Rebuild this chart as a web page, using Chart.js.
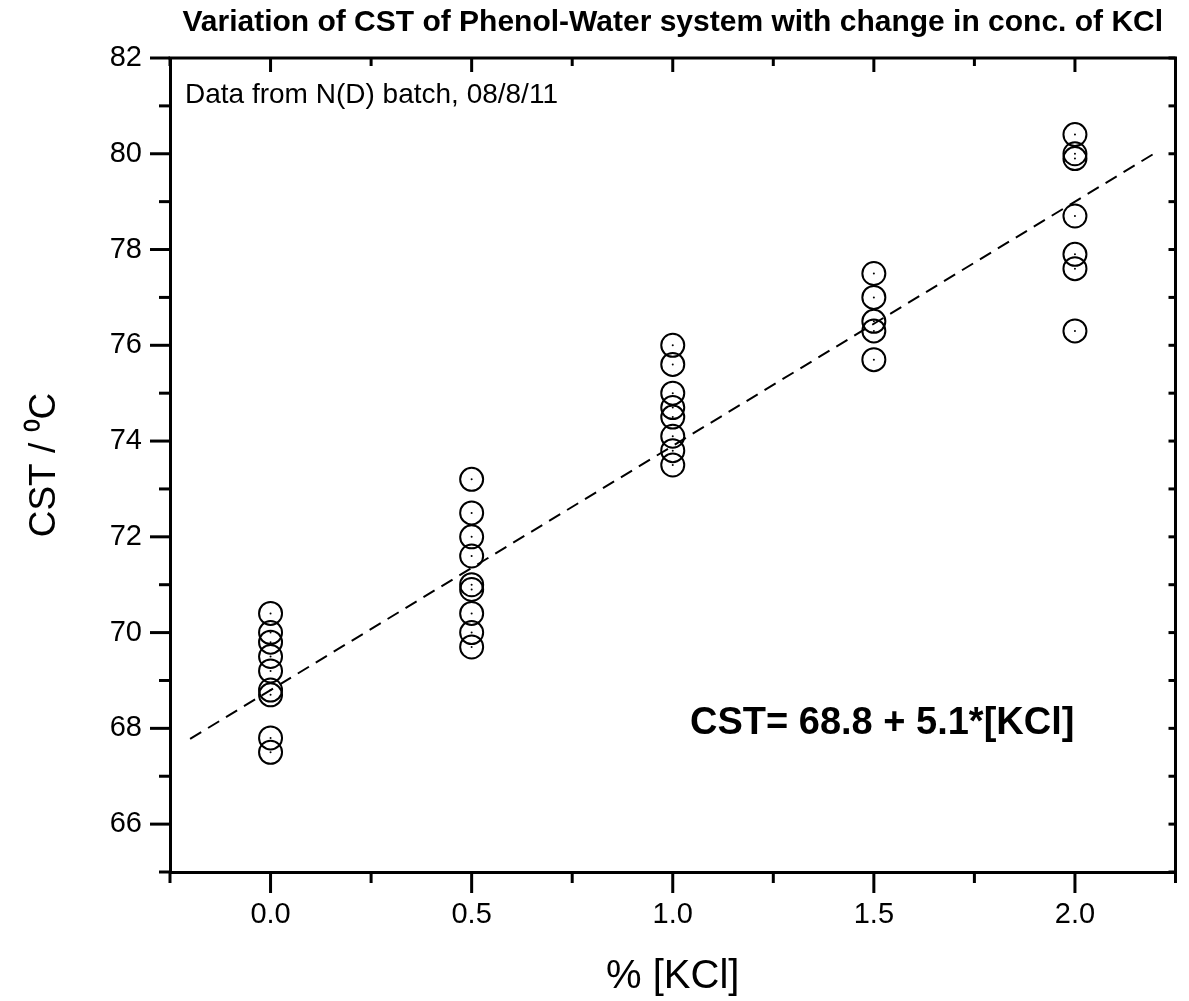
<!DOCTYPE html>
<html>
<head>
<meta charset="utf-8">
<script src="https://cdn.jsdelivr.net/npm/chart.js@4.4.1/dist/chart.umd.min.js"></script>
<style>
  html, body { margin: 0; padding: 0; background: #ffffff; }
  #wrap { width: 1189px; height: 1001px; position: relative; }
</style>
</head>
<body>
<div id="wrap"><canvas id="c"></canvas></div>
<script>
// ---- data ----
const kclLevels = [0.0, 0.5, 1.0, 1.5, 2.0];
const cstAt0_0 = [70.4, 70.0, 69.8, 69.5, 69.2, 68.8, 68.7, 67.8, 67.5];
const cstAt0_5 = [73.2, 72.5, 72.0, 71.6, 71.0, 70.9, 70.4, 70.0, 69.7];
const cstAt1_0 = [76.0, 75.6, 75.0, 74.7, 74.5, 74.1, 73.8, 73.5];
const cstAt1_5 = [77.5, 77.0, 76.5, 76.3, 75.7];
const cstAt2_0 = [80.4, 80.0, 79.9, 78.7, 77.9, 77.6, 76.3];
const fitX = [-0.2, 2.2];
const fitY = [67.78, 80.02];
const xTickValues = [0.0, 0.5, 1.0, 1.5, 2.0];
const xMinorValues = [-0.25, 0.25, 0.75, 1.25, 1.75, 2.25];
const yTickValues = [66, 68, 70, 72, 74, 76, 78, 80, 82];
const yMinorValues = [65, 67, 69, 71, 73, 75, 77, 79, 81];
const titleText = 'Variation of CST of Phenol-Water system with change in conc. of KCl';
const xTitle = '% [KCl]';
const yTitle = 'CST / \u2070C';
const noteText = 'Data from N(D) batch, 08/8/11';
const eqText = 'CST= 68.8 + 5.1*[KCl]';

const groups = [cstAt0_0, cstAt0_5, cstAt1_0, cstAt1_5, cstAt2_0];
const points = [];
groups.forEach((arr, i) => arr.forEach(v => points.push({x: kclLevels[i], y: v})));
const fitPoints = fitX.map((x, i) => ({x: x, y: fitY[i]}));

const FONT = "'Liberation Sans', Arial, Helvetica, sans-serif";

const framePlugin = {
  id: 'frame',
  afterDraw(chart) {
    const {ctx, chartArea: a, scales: {x, y}} = chart;
    ctx.save();
    ctx.strokeStyle = '#000';
    ctx.lineCap = 'butt';
    ctx.lineWidth = 3;
    // top and right frame
    ctx.beginPath();
    ctx.moveTo(a.left - 1.5, a.top);
    ctx.lineTo(a.right, a.top);
    ctx.lineTo(a.right, a.bottom + 1.5);
    ctx.stroke();
    const tick = (x1, y1, x2, y2) => { ctx.beginPath(); ctx.moveTo(x1, y1); ctx.lineTo(x2, y2); ctx.stroke(); };
    // left axis: outward ticks, right: inward
    yTickValues.forEach(v => { const p = y.getPixelForValue(v); tick(a.left, p, a.left - 20, p); tick(a.right, p, a.right - 7, p); });
    yMinorValues.forEach(v => { const p = y.getPixelForValue(v); tick(a.left, p, a.left - 11, p); tick(a.right, p, a.right - 7, p); });
    // bottom axis: outward ticks; top: inward
    xTickValues.forEach(v => { const p = x.getPixelForValue(v); tick(p, a.bottom, p, a.bottom + 21); tick(p, a.top, p, a.top + 14); });
    xMinorValues.forEach(v => { const p = x.getPixelForValue(v); tick(p, a.bottom, p, a.bottom + 11); tick(p, a.top, p, a.top + 8); });
    // annotations
    ctx.fillStyle = '#000';
    ctx.textBaseline = 'alphabetic';
    ctx.textAlign = 'left';
    ctx.font = '28px ' + FONT;
    ctx.fillText(noteText, a.left + 15, a.top + 45);
    ctx.font = 'bold 38px ' + FONT;
    ctx.fillText(eqText, 690, 734);
    ctx.restore();
  }
};

new Chart(document.getElementById('c'), {
  type: 'scatter',
  data: {
    datasets: [
      {
        type: 'line',
        label: 'fit',
        data: fitPoints,
        borderColor: '#000',
        borderWidth: 2,
        borderDash: [13, 8],
        pointRadius: 0,
        fill: false,
        order: 3
      },
      {
        label: 'CST',
        data: points,
        pointRadius: 11.5,
        pointHoverRadius: 11.5,
        pointBorderWidth: 2,
        pointBackgroundColor: 'rgba(255,255,255,0)',
        pointBorderColor: '#000',
        showLine: false,
        order: 2
      },
      {
        label: 'centres',
        data: points,
        pointRadius: 1,
        pointBorderWidth: 0,
        pointBackgroundColor: '#000',
        pointBorderColor: '#000',
        showLine: false,
        order: 1
      }
    ]
  },
  options: {
    responsive: true,
    maintainAspectRatio: false,
    animation: false,
    events: [],
    layout: { padding: { left: 0, right: 11, top: 0, bottom: 0 } },
    plugins: {
      legend: { display: false },
      tooltip: { enabled: false },
      title: {
        display: true,
        text: titleText,
        fullSize: false,
        color: '#000',
        font: { family: FONT, size: 30, weight: 'bold' },
        padding: { top: 5, bottom: 17 }
      }
    },
    scales: {
      x: {
        type: 'linear',
        min: -0.25,
        max: 2.25,
        afterBuildTicks: s => { s.ticks = xTickValues.map(v => ({value: v})); },
        afterFit: s => { s.height = 129; },
        ticks: {
          color: '#000',
          font: { family: FONT, size: 29 },
          padding: 6,
          maxRotation: 0,
          autoSkip: false,
          callback: v => Number(v).toFixed(1)
        },
        grid: { display: true, drawOnChartArea: false, drawTicks: true, tickLength: 20, color: 'rgba(0,0,0,0)' },
        border: { display: true, color: '#000', width: 3 },
        title: {
          display: true,
          text: xTitle,
          color: '#000',
          font: { family: FONT, size: 40 },
          padding: { top: 0, bottom: 0 }
        }
      },
      y: {
        type: 'linear',
        min: 65,
        max: 82,
        afterBuildTicks: s => { s.ticks = yTickValues.map(v => ({value: v})); },
        afterFit: s => { s.width = 170; },
        ticks: {
          color: '#000',
          font: { family: FONT, size: 29 },
          padding: 8,
          autoSkip: false,
          callback: v => String(v)
        },
        grid: { display: true, drawOnChartArea: false, drawTicks: true, tickLength: 20, color: 'rgba(0,0,0,0)' },
        border: { display: true, color: '#000', width: 3 },
        title: {
          display: true,
          text: yTitle,
          color: '#000',
          font: { family: FONT, size: 37 },
          padding: { top: 23, bottom: 0 }
        }
      }
    }
  },
  plugins: [framePlugin]
});
</script>
</body>
</html>
